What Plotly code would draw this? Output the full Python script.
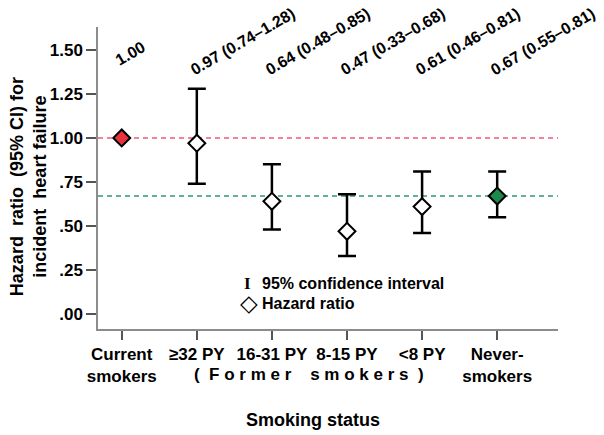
import plotly.graph_objects as go

# ---- data ----
categories = ["Current<br>smokers", "≥32 PY", "16-31 PY", "8-15 PY", "&lt;8 PY", "Never-<br>smokers"]
hazard_ratio = [1.00, 0.97, 0.64, 0.47, 0.61, 0.67]
ci_lower = [None, 0.74, 0.48, 0.33, 0.46, 0.55]
ci_upper = [None, 1.28, 0.85, 0.68, 0.81, 0.81]
ytick_vals = [0.0, 0.25, 0.50, 0.75, 1.00, 1.25, 1.50]
ytick_text = [".00", ".25", ".50", ".75", "1.00", "1.25", "1.50"]
ref_current = 1.00
ref_never = 0.67

# ---- styles ----
FONT = "Liberation Sans"
fill_colors = ["#e8323c", "white", "white", "white", "white", "#1d8a4c"]

x_idx = list(range(len(categories)))
err_plus = [0 if u is None else u - h for h, u in zip(hazard_ratio, ci_upper)]
err_minus = [0 if l is None else h - l for h, l in zip(hazard_ratio, ci_lower)]
has_ci = [l is not None for l in ci_lower]

fig = go.Figure()

# reference lines
fig.add_shape(type="line", xref="paper", x0=0, x1=1, yref="y", y0=ref_current, y1=ref_current,
              line=dict(color="#ef5a78", width=1.5, dash="5px,4px"), layer="below")
fig.add_shape(type="line", xref="paper", x0=0, x1=1, yref="y", y0=ref_never, y1=ref_never,
              line=dict(color="#2e9a6e", width=1.5, dash="5px,4px"), layer="below")

# error bars (only for groups with a CI)
fig.add_trace(go.Scatter(
    x=[x for x, c in zip(x_idx, has_ci) if c],
    y=[h for h, c in zip(hazard_ratio, has_ci) if c],
    mode="markers",
    marker=dict(size=1, color="rgba(0,0,0,0)"),
    error_y=dict(type="data", symmetric=False,
                 array=[e for e, c in zip(err_plus, has_ci) if c],
                 arrayminus=[e for e, c in zip(err_minus, has_ci) if c],
                 color="black", thickness=2.5, width=9),
    hoverinfo="skip", showlegend=False))

# hazard ratio diamonds
fig.add_trace(go.Scatter(
    x=x_idx, y=hazard_ratio, mode="markers",
    marker=dict(symbol="diamond", size=13, color=fill_colors,
                line=dict(color="black", width=2)),
    showlegend=False))

# rotated value labels
for i, (h, l, u) in enumerate(zip(hazard_ratio, ci_lower, ci_upper)):
    if l is None:
        txt = f"{h:.2f}"
        ysh = 9
    else:
        txt = f"{h:.2f} ({l:.2f}–{u:.2f})"
        ysh = 0
    fig.add_annotation(x=i, y=1.325, xref="x", yref="y", text=txt, textangle=-30,
                       xanchor="left", yanchor="bottom", xshift=-12, yshift=ysh,
                       showarrow=False, font=dict(family=FONT, size=16, color="black", weight="bold"))

# former smokers spanning label
fig.add_annotation(x=2.5, y=-0.152, xref="x", yref="paper",
                   text="(\u00a0\u00a0F\u00a0o\u00a0r\u00a0m\u00a0e\u00a0r\u00a0\u00a0\u00a0\u00a0s\u00a0m\u00a0o\u00a0k\u00a0e\u00a0r\u00a0s\u00a0\u00a0)",
                   showarrow=False, xanchor="center", yanchor="middle",
                   font=dict(family=FONT, size=17, color="black", weight="bold"))

# axis titles
fig.add_annotation(x=0.467, y=-0.301, xref="paper", yref="paper", text="Smoking status",
                   showarrow=False, xanchor="center", yanchor="middle",
                   font=dict(family=FONT, size=18, color="black", weight="bold"))
fig.add_annotation(x=-0.152, y=0.47, xref="paper", yref="paper",
                   text="Hazard\u00a0\u00a0ratio\u00a0\u00a0(95%\u00a0CI)\u00a0for<br>incident\u00a0\u00a0heart\u00a0failure",
                   textangle=-90, showarrow=False, xanchor="center", yanchor="middle",
                   font=dict(family=FONT, size=18, color="black", weight="bold"))

# legend (drawn as text)
fig.add_annotation(x=0.325, y=0.152, xref="paper", yref="paper", text="I",
                   showarrow=False, xanchor="center", yanchor="middle",
                   font=dict(family="Liberation Serif", size=17, color="black", weight="bold"))
fig.add_annotation(x=0.352, y=0.152, xref="paper", yref="paper", text="95% confidence interval",
                   showarrow=False, xanchor="left", yanchor="middle",
                   font=dict(family=FONT, size=16, color="black", weight="bold"))
fig.add_annotation(x=0.328, y=0.086, xref="paper", yref="paper", text="◇",
                   showarrow=False, xanchor="center", yanchor="middle",
                   font=dict(family="DejaVu Sans", size=23, color="black", weight="bold"))
fig.add_annotation(x=0.352, y=0.086, xref="paper", yref="paper", text="Hazard ratio",
                   showarrow=False, xanchor="left", yanchor="middle",
                   font=dict(family=FONT, size=16, color="black", weight="bold"))

# page body has an 8px margin: shrink figure and margins to keep the plot area in place
fig.update_layout(
    width=596, height=427,
    margin=dict(l=90, r=46, t=19, b=106),
    paper_bgcolor="white", plot_bgcolor="white",
    font=dict(family=FONT, size=17, color="black", weight="bold"),
    showlegend=False,
)
fig.update_xaxes(range=[-0.316, 5.81], tickmode="array", tickvals=x_idx, ticktext=categories,
                 showgrid=False, zeroline=False, showline=True, linecolor="#8c8c8c", linewidth=1.5,
                 ticks="outside", ticklen=9, tickwidth=1.5, tickcolor="#555555",
                 tickfont=dict(family=FONT, size=17, color="black", weight="bold"))
fig.update_yaxes(range=[-0.085, 1.63], tickmode="array", tickvals=ytick_vals, ticktext=ytick_text,
                 showgrid=False, zeroline=False, showline=True, linecolor="#8c8c8c", linewidth=1.5,
                 ticks="outside", ticklen=10, tickwidth=1.5, tickcolor="#555555",
                 tickfont=dict(family=FONT, size=17, color="black", weight="bold"))

fig.write_html("out.html")
